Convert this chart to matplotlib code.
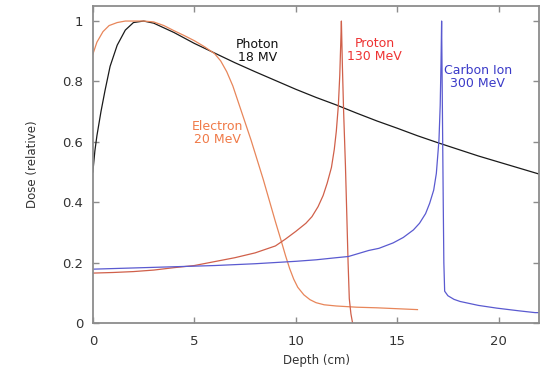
import matplotlib
matplotlib.use('Agg')
import matplotlib.pyplot as plt

# depth-dose curves
photon_depth = [0, 0.1, 0.2, 0.4, 0.6, 0.85, 1.2, 1.6, 2.0, 2.5, 3.0, 4.0, 5.0, 6.0,
                7.0, 8.0, 9.0, 10.0, 11.0, 12.0, 13.0, 14.0, 15.0, 16.0, 17.0, 18.0,
                19.0, 20.0, 21.0, 22.0]
photon_dose = [0.50, 0.57, 0.62, 0.70, 0.77, 0.85, 0.92, 0.97, 0.995, 1.0, 0.993, 0.962,
               0.926, 0.894, 0.862, 0.832, 0.803, 0.774, 0.747, 0.722, 0.695, 0.669,
               0.645, 0.62, 0.597, 0.575, 0.553, 0.533, 0.513, 0.493]

electron_depth = [0, 0.2, 0.5, 0.8, 1.2, 1.6, 2.0, 2.5, 3.0, 3.5, 4.0, 4.5, 5.0, 5.5,
                  6.0, 6.3, 6.6, 6.9, 7.2, 7.5, 7.8, 8.1, 8.4, 8.7, 9.0, 9.3, 9.5, 9.7,
                  9.9, 10.1, 10.4, 10.7, 11.0, 11.4, 12.0, 13.0, 14.0, 15.0, 16.0]
electron_dose = [0.89, 0.93, 0.965, 0.985, 0.995, 1.0, 1.0, 1.0, 0.997, 0.985, 0.968,
                 0.952, 0.935, 0.915, 0.892, 0.868, 0.832, 0.785, 0.725, 0.665, 0.605,
                 0.54, 0.475, 0.405, 0.335, 0.268, 0.222, 0.18, 0.145, 0.118, 0.093,
                 0.077, 0.067, 0.06, 0.056, 0.052, 0.05, 0.047, 0.044]

proton_depth = [0, 1, 2, 3, 4, 5, 6, 7, 8, 9, 9.5, 10, 10.5, 10.8, 11.1, 11.35, 11.55,
                11.76, 11.9, 12.0, 12.1, 12.17, 12.22, 12.25, 12.3, 12.36, 12.45, 12.52,
                12.58, 12.64, 12.72, 12.8]
proton_dose = [0.165, 0.167, 0.17, 0.175, 0.183, 0.19, 0.203, 0.216, 0.232, 0.255, 0.278,
               0.303, 0.33, 0.352, 0.385, 0.422, 0.463, 0.515, 0.575, 0.635, 0.72, 0.82,
               0.93, 1.0, 0.85, 0.7, 0.52, 0.35, 0.2, 0.08, 0.03, 0.0]

carbon_depth = [0, 1, 2, 3, 4, 5, 6, 7, 8, 9, 10, 11, 12, 12.6, 13.6, 14.1, 14.8, 15.3,
                15.8, 16.1, 16.4, 16.6, 16.8, 16.93, 17.06, 17.12, 17.16, 17.19, 17.23,
                17.27, 17.3, 17.34, 17.5, 17.8, 18.1, 19.0, 19.9, 21.0, 21.8, 22.0]
carbon_dose = [0.178, 0.18, 0.182, 0.184, 0.186, 0.188, 0.19, 0.193, 0.196, 0.2, 0.204,
               0.209, 0.216, 0.22, 0.24, 0.247, 0.265, 0.283, 0.308, 0.33, 0.362, 0.396,
               0.44, 0.495, 0.606, 0.72, 0.86, 1.0, 0.7, 0.4, 0.2, 0.105, 0.09, 0.078,
               0.071, 0.058, 0.049, 0.04, 0.034, 0.034]

xticks = [0, 5, 10, 15, 20]
yticks = [0, 0.2, 0.4, 0.6, 0.8, 1.0]
ytick_labels = ['0', '0.2', '0.4', '0.6', '0.8', '1']

FRAME = '#8c8c8c'

fig = plt.figure(figsize=(5.43, 3.72), dpi=100)
ax = fig.add_axes([0.171, 0.132, 0.822, 0.852])

ax.plot(photon_depth, photon_dose, color='#1a1a1a', lw=0.9)
ax.plot(electron_depth, electron_dose, color='#e8865a', lw=0.9)
ax.plot(proton_depth, proton_dose, color='#d0604a', lw=0.9)
ax.plot(carbon_depth, carbon_dose, color='#5a5ad0', lw=0.9)

# curve labels
ax.text(8.1, 0.9, 'Photon\n18 MV', color='#111111', fontsize=9, ha='center',
        va='center', linespacing=1.0)
ax.text(13.9, 0.905, 'Proton\n130 MeV', color='#ee3333', fontsize=9, ha='center',
        va='center', linespacing=1.0)
ax.text(18.97, 0.815, 'Carbon Ion\n300 MeV', color='#3a3ac8', fontsize=9, ha='center',
        va='center', linespacing=1.0)
ax.text(6.16, 0.63, 'Electron\n20 MeV', color='#f07a48', fontsize=9, ha='center',
        va='center', linespacing=1.0)

ax.set_xlim(0, 22)
ax.set_ylim(0, 1.05)
ax.set_xticks(xticks)
ax.set_yticks(yticks)
ax.set_yticklabels(ytick_labels)
ax.tick_params(axis='both', direction='in', length=4, width=1, color=FRAME,
               labelsize=9.5, top=True, right=True, labelcolor='#333333')
ax.tick_params(axis='x', pad=9)
ax.tick_params(axis='y', pad=7)
for s in ax.spines.values():
    s.set_color(FRAME)
    s.set_linewidth(1.3)

ax.set_xlabel('Depth (cm)', fontsize=8.5, color='#333333', labelpad=4)
ax.set_ylabel('Dose (relative)', fontsize=8.5, color='#333333', labelpad=17)

fig.savefig('out.png', dpi=100)
